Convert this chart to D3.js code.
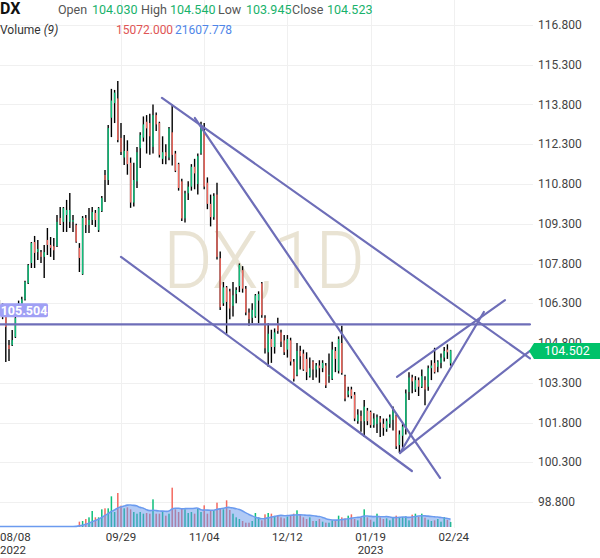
<!DOCTYPE html>
<html>
<head>
<meta charset="utf-8">
<script src="https://cdn.jsdelivr.net/npm/d3@7"></script>
<style>
  body { margin: 0; background: #fff; }
  svg { display: block; font-family: Roboto, "Noto Sans", sans-serif; }
</style>
</head>
<body>
<svg id="chart" width="600" height="558"></svg>
<script>
// DX daily, 08/08/2022 - 02/23/2023 (one candle per trading day)
const holidays = ["2022-12-26", "2023-01-02"];
const dates = [];
for (let d = new Date(Date.UTC(2022, 7, 8)); d <= new Date(Date.UTC(2023, 1, 24)); d.setUTCDate(d.getUTCDate() + 1)) {
  const iso = d.toISOString().slice(0, 10);
  if (d.getUTCDay() === 0 || d.getUTCDay() === 6 || holidays.includes(iso)) continue;
  dates.push(iso);
}

const opens = [
  106.23,105.95,105.78,104.72,104.72,105.03,106.10,106.25,106.45,107.06,
  107.82,108.61,108.23,108.23,108.05,108.69,108.50,108.45,108.46,109.52,
  109.37,109.63,109.37,109.37,109.25,108.39,107.40,109.52,109.25,109.44,
  109.71,109.06,109.78,111.14,110.95,113.30,113.85,114.03,112.54,111.80,
  112.05,111.60,110.10,110.90,112.15,112.55,113.15,113.10,112.20,113.40,
  113.10,111.75,112.00,111.80,112.75,111.95,111.55,110.90,109.50,110.45,
  110.70,111.45,110.80,111.95,112.80,110.85,110.05,109.55,110.40,108.00,
  106.30,106.90,106.75,106.20,106.65,106.95,107.55,106.85,105.95,105.75,
  105.80,106.40,107.05,105.75,104.45,104.95,104.65,105.55,105.20,104.90,
  104.55,104.90,104.10,103.60,104.50,104.40,104.20,103.55,104.10,103.80,
  103.95,103.85,103.95,103.55,103.45,104.50,103.75,104.80,103.55,102.85,
  103.05,102.85,101.85,102.05,101.85,102.25,102.20,101.70,101.75,101.95,
  101.75,101.55,101.75,101.90,102.05,100.95,101.30,101.55,102.95,103.50,
  103.05,103.40,103.15,103.40,103.15,103.85,104.05,103.90,104.05,104.25,
  104.55,104.030
];
const highs = [
  106.42,106.30,105.86,104.91,105.29,105.82,106.40,106.55,107.15,107.78,
  108.61,108.84,108.69,108.31,108.50,109.14,108.80,108.76,109.63,109.93,
  109.93,110.20,110.46,109.63,109.30,108.57,109.59,109.63,109.89,109.93,
  109.82,109.93,110.35,111.33,113.03,114.39,114.35,114.69,113.10,112.65,
  112.45,111.80,111.60,112.20,112.75,113.35,113.40,113.45,113.80,113.50,
  113.15,112.60,112.30,112.95,113.80,112.05,111.60,111.00,110.55,110.90,
  111.55,111.75,111.95,113.15,113.10,111.05,110.40,110.45,110.85,108.25,
  107.10,106.95,106.85,107.10,106.90,107.80,107.70,106.95,106.10,106.30,
  106.65,106.75,107.10,105.85,105.55,105.30,105.35,105.75,105.30,105.10,
  105.10,105.00,104.20,104.80,104.70,104.55,104.45,104.25,104.15,104.05,
  104.15,104.15,104.05,104.40,104.85,104.65,105.05,105.45,103.60,103.15,
  103.15,102.95,102.30,102.25,102.65,102.35,102.25,102.15,102.10,102.05,
  101.95,101.95,102.10,102.40,102.10,101.50,101.75,103.05,103.70,103.60,
  103.55,103.50,103.80,103.55,103.95,104.15,104.62,104.15,104.40,104.65,
  104.75,104.540
];
const lows = [
  105.74,105.70,104.08,104.12,104.69,104.99,105.95,106.10,106.40,107.03,
  107.63,107.63,107.93,107.82,107.25,108.12,108.05,107.93,108.42,109.25,
  108.99,108.99,109.14,108.99,108.58,107.48,107.37,108.95,108.95,109.25,
  109.18,108.99,109.74,110.12,110.76,112.57,113.10,112.38,111.89,111.52,
  111.15,109.90,109.95,110.65,111.40,112.40,111.95,111.90,111.95,112.80,
  111.80,111.55,111.55,111.70,111.50,111.25,110.55,109.40,109.35,110.20,
  110.55,110.60,110.40,111.90,110.60,109.85,109.20,109.45,107.95,106.05,
  106.20,105.15,105.70,105.80,106.30,106.72,106.70,105.85,105.45,105.55,
  105.75,105.55,105.75,104.40,103.90,104.05,104.40,105.15,104.65,104.35,
  104.25,103.95,103.35,103.55,103.80,103.75,103.40,103.50,103.40,103.50,
  103.30,103.70,103.10,103.30,103.40,103.70,103.65,103.60,102.60,102.75,
  102.70,101.85,101.75,101.45,101.25,101.70,101.60,101.60,101.40,101.25,
  101.30,101.45,101.60,101.50,100.80,100.65,100.85,101.35,102.65,102.90,
  102.95,102.80,103.10,102.45,103.00,103.40,103.65,103.70,103.85,104.10,
  104.20,103.945
];
const closes = [
  105.93,105.85,105.40,104.57,104.91,105.74,106.30,106.45,107.10,107.74,
  108.57,108.20,108.35,108.05,108.23,108.50,108.39,108.30,109.37,109.29,
  109.89,109.82,109.82,109.44,108.62,108.01,109.52,109.25,109.44,109.74,
  109.44,109.89,110.27,110.95,112.91,113.95,114.25,112.46,112.01,112.05,
  111.55,110.10,110.95,112.00,112.65,113.05,112.90,112.60,113.40,113.05,
  111.90,112.00,111.85,112.90,111.90,111.30,110.65,109.50,110.45,110.70,
  111.45,111.20,111.85,113.05,110.70,110.05,109.55,110.35,108.05,106.15,
  106.90,106.35,106.10,106.60,106.80,107.75,106.85,105.95,105.70,106.05,
  106.60,106.65,105.85,104.60,105.15,104.65,105.20,105.25,104.85,104.45,
  104.95,104.10,103.45,104.50,104.30,103.80,103.70,103.85,103.80,103.95,
  103.85,104.05,103.20,103.60,104.55,104.20,104.95,103.67,102.70,103.00,
  102.80,101.95,102.10,101.85,102.40,101.85,101.70,101.95,102.00,101.80,
  101.60,101.85,102.00,102.25,100.90,101.35,101.65,102.90,103.50,103.35,
  103.40,103.15,103.55,103.05,103.85,103.95,103.70,104.10,104.25,104.50,
  104.45,104.523
];
const volumes = [
  0,0,0,0,0,0,0,0,0,0,
  0,0,0,0,0,0,0,0,0,0,
  0,0,0,0,0,16000,18000,24000,29000,48000,
  29000,29000,53000,56000,56000,92000,45000,102000,64000,56000,
  59000,53000,45000,40000,45000,40000,42000,40000,83000,40000,
  40000,45000,34000,40000,118000,53000,45000,56000,53000,42000,
  45000,40000,56000,45000,65000,40000,51000,51000,73000,56000,
  53000,80000,51000,40000,29000,24000,18000,13000,13000,18000,
  42000,29000,20000,38000,42000,40000,31000,34000,29000,26000,
  31000,34000,40000,50000,38000,29000,24000,29000,18000,18000,
  24000,16000,13000,13000,20000,20000,34000,29000,26000,34000,
  38000,24000,20000,29000,53000,29000,22000,16000,40000,29000,
  24000,26000,20000,30000,34000,28000,30000,32000,20000,37000,
  40000,31000,40000,28000,22000,18000,20000,24000,16000,30000,
  21398,15072
];

const yTicks = [98.8, 100.3, 101.8, 103.3, 104.8, 106.3, 107.8, 109.3, 110.8, 112.3, 113.8, 115.3, 116.8];
const xTicks = ["2022-08-08", "2022-09-29", "2022-11-04", "2022-12-12", "2023-01-19", "2023-02-24"];
const xTickLabels = ["08/08", "09/29", "11/04", "12/12", "01/19", "02/24"];
const yearLabels = {"2022-08-08": "2022", "2023-01-19": "2023"};

// drawn trend lines: [bar index, price] pairs
const trendLines = [
  [[50.8, 114.05], [165.8, 104.22]],
  [[61.1, 113.29], [137.7, 99.71]],
  [[38.0, 108.05], [128.9, 99.97]],
  [[-2, 105.504], [165.8, 105.504]],
  [[124.25, 103.52], [158.0, 106.42]],
  [[125.2, 100.65], [151.4, 105.97]],
  [[125.2, 100.65], [165.8, 104.50]]
];
const levelPrice = 105.504;
const lastPrice = 104.502;
const maPeriod = 9;

const svg = d3.select("#chart");
const plotRight = 531, plotBottom = 528;
const green = "#0ec07b", red = "#f46a60", lineColor = "#6e6eb8";

const x = d3.scaleLinear().domain([0, dates.length - 1]).range([-0.6, 453.8]);
const y = d3.scaleLinear().domain([98.8, 116.8]).range([502, 25]);
const yVol = d3.scaleLinear().domain([0, 120000]).range([527, 487]);

svg.append("defs").append("clipPath").attr("id", "plot")
  .append("rect").attr("x", 0).attr("y", 0).attr("width", plotRight).attr("height", plotBottom);

// grid
const grid = svg.append("g").attr("stroke", "#f0f0f0").attr("stroke-width", 1);
grid.selectAll(".h").data(yTicks).enter().append("line")
  .attr("x1", 0).attr("x2", 533)
  .attr("y1", d => Math.round(y(d)) + 0.5).attr("y2", d => Math.round(y(d)) + 0.5);
grid.selectAll(".v").data(xTicks).enter().append("line")
  .attr("y1", 0).attr("y2", plotBottom)
  .attr("x1", d => Math.round(x(dates.indexOf(d))) + 0.5)
  .attr("x2", d => Math.round(x(dates.indexOf(d))) + 0.5);

// watermark
svg.append("text")
  .attr("x", 163).attr("y", 288)
  .attr("font-size", 80).attr("font-weight", 300)
  .attr("textLength", 202).attr("lengthAdjust", "spacingAndGlyphs")
  .attr("fill", "#e9e3d3")
  .text("DX,1D");

const plot = svg.append("g").attr("clip-path", "url(#plot)");

// volume bars
const idx = d3.range(closes.length);
plot.append("g").selectAll("rect").data(idx.filter(i => volumes[i] > 0)).enter().append("rect")
  .attr("x", i => x(i) - 0.75).attr("width", 1.5)
  .attr("y", i => yVol(volumes[i]))
  .attr("height", i => yVol(0) - yVol(volumes[i]))
  .attr("fill", i => closes[i] >= opens[i] ? green : red);

// volume MA(9)
const ma = idx.map(i => d3.mean(volumes.slice(Math.max(0, i - maPeriod + 1), i + 1)));
plot.append("path").datum(idx)
  .attr("fill", "rgb(100,150,235)").attr("fill-opacity", 0.5)
  .attr("d", d3.area().curve(d3.curveBasis).x(i => x(i)).y0(yVol(0)).y1(i => yVol(ma[i])));
plot.append("path").datum(idx)
  .attr("fill", "none").attr("stroke", "#6b9bef").attr("stroke-width", 1.6)
  .attr("d", d3.line().curve(d3.curveBasis).x(i => x(i)).y(i => yVol(ma[i]) - 0.5));

// candles
const candles = plot.append("g").selectAll("g").data(idx).enter().append("g");
candles.append("line")
  .attr("x1", i => x(i)).attr("x2", i => x(i))
  .attr("y1", i => y(highs[i])).attr("y2", i => y(lows[i]))
  .attr("stroke", "#000").attr("stroke-width", 1.4);
candles.append("rect")
  .attr("x", i => x(i) - 0.7).attr("width", 1.4)
  .attr("y", i => y(Math.max(opens[i], closes[i])))
  .attr("height", i => Math.max(1, Math.abs(y(opens[i]) - y(closes[i]))))
  .attr("fill", i => closes[i] >= opens[i] ? green : red);

// trend lines
plot.append("g").selectAll("line").data(trendLines).enter().append("line")
  .attr("x1", d => x(d[0][0])).attr("y1", d => y(d[0][1]))
  .attr("x2", d => x(d[1][0])).attr("y2", d => y(d[1][1]))
  .attr("stroke", lineColor).attr("stroke-width", 2.2).attr("stroke-linecap", "round");

// level label on the left
const ly = y(levelPrice);
svg.append("rect").attr("x", 0).attr("y", ly - 21).attr("width", 48).attr("height", 14)
  .attr("rx", 2).attr("fill", "#a0a0f5");
svg.append("text").attr("x", 24).attr("y", ly - 9.5).attr("text-anchor", "middle")
  .attr("font-size", 12.5).attr("font-weight", 700).attr("fill", "#fff")
  .text(levelPrice.toFixed(3));

// y axis labels
svg.append("g").selectAll("text").data(yTicks).enter().append("text")
  .attr("x", 538).attr("y", d => y(d)).attr("dy", "0.35em")
  .attr("font-size", 12).attr("fill", "#444")
  .text(d => d.toFixed(3));

// last price tag
const py = y(lastPrice);
svg.append("path")
  .attr("d", `M529,${py} L534,${py - 8} L600,${py - 8} L600,${py + 8} L534,${py + 8} Z`)
  .attr("fill", "#00c26a");
svg.append("text").attr("x", 567).attr("y", py).attr("dy", "0.36em").attr("text-anchor", "middle")
  .attr("font-size", 12.5).attr("fill", "#fff").text(lastPrice.toFixed(3));

// x axis labels
const xl = svg.append("g").attr("font-size", 11.5).attr("fill", "#333");
xTicks.forEach((d, k) => {
  const px = x(dates.indexOf(d));
  const anchor = px < 20 ? "start" : "middle";
  const tx = px < 20 ? 0 : px;
  xl.append("text").attr("x", tx).attr("y", 541).attr("text-anchor", anchor).text(xTickLabels[k]);
  if (yearLabels[d]) {
    xl.append("text").attr("x", tx).attr("y", 554).attr("text-anchor", anchor).text(yearLabels[d]);
  }
});

// header
const last = closes.length - 1;
const hdr = svg.append("g").attr("font-size", 12.5);
hdr.append("text").attr("x", 0).attr("y", 14).attr("font-size", 16).attr("font-weight", 700)
  .attr("fill", "#111").text("DX");
const fields = [
  ["Open", opens[last], 58, 92],
  ["High", highs[last], 141, 170],
  ["Low", lows[last], 218, 246],
  ["Close", closes[last], 292, 327]
];
fields.forEach(f => {
  hdr.append("text").attr("x", f[2]).attr("y", 14).attr("fill", "#555").text(f[0]);
  hdr.append("text").attr("x", f[3]).attr("y", 14).attr("fill", "#18b26b").text(f[1].toFixed(3));
});
const vt = hdr.append("text").attr("x", 0).attr("y", 34).attr("font-size", 12).attr("fill", "#333");
vt.append("tspan").text("Volume ");
vt.append("tspan").attr("font-style", "italic").text("(" + maPeriod + ")");
hdr.append("text").attr("x", 116).attr("y", 34).attr("font-size", 12).attr("fill", "#e05555")
  .text(volumes[last].toFixed(3));
hdr.append("text").attr("x", 175).attr("y", 34).attr("font-size", 12).attr("fill", "#4f86e8")
  .text(ma[last].toFixed(3));
</script>
</body>
</html>
